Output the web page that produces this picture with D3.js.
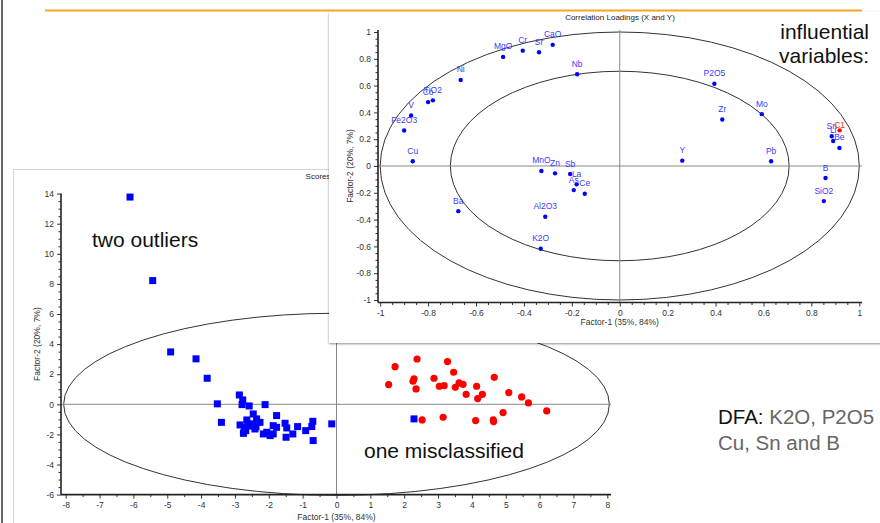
<!DOCTYPE html>
<html>
<head>
<meta charset="utf-8">
<script src="https://cdn.jsdelivr.net/npm/d3@7"></script>
<style>
  body { margin: 0; background: #fff; }
  svg { display: block; font-family: "Liberation Sans", Arial, sans-serif; }
</style>
</head>
<body>
<svg id="slide" width="880" height="523"></svg>
<script>
// ---- Scores: class 1 (blue squares) ----
const scoreBlueX = [-6.10, -5.43, -4.90, -4.15, -3.82, -3.52, -3.40, -2.87, -2.77, -2.79, -2.58, -2.11,
  -2.46, -2.36, -2.65, -2.85, -2.73, -2.75, -2.68, -2.46, -2.41, -2.26, -2.16, -2.06, -1.96, -1.87,
  -1.87, -1.77, -1.77, -1.52, -1.47, -1.49, -1.29, -1.15, -0.91, -0.70, -0.73, -0.69, -0.14, 2.29,
  -2.55, -2.38, -2.62];
const scoreBlueY = [13.77, 8.22, 3.48, 3.02, 1.73, 0.03, -1.20, 0.62, 0.29, -0.02, -0.11, -0.02,
  -0.64, -0.97, -1.04, -1.37, -1.53, -1.93, -1.75, -1.30, -1.64, -1.20, -1.97, -1.86, -2.08, -1.97,
  -1.42, -1.53, -0.75, -1.26, -1.57, -2.19, -1.97, -1.48, -1.75, -1.13, -1.48, -2.41, -1.30, -0.97,
  -1.45, -1.50, -1.30];

// ---- Scores: class 2 (red circles) ----
const scoreRedX = [1.73, 2.38, 3.28, 1.54, 2.29, 2.26, 2.35, 2.88, 3.04, 3.18, 3.46, 3.51, 3.62, 3.74,
  3.83, 4.14, 4.17, 4.31, 4.66, 5.09, 5.47, 5.67, 6.21, 4.92, 4.63, 4.64, 4.11, 3.15, 2.53];
const scoreRedY = [2.50, 3.01, 2.84, 1.31, 1.69, 1.53, 1.02, 1.73, 1.20, 1.24, 2.13, 1.13, 1.42, 1.33,
  0.66, 1.20, 0.38, 0.66, 1.79, 0.78, 0.49, 0.09, -0.44, -0.55, -1.04, -1.15, -1.08, -0.86, -1.04];

// ---- Correlation loadings (X variables) ----
const loadNames = ["MgO", "Cr", "Sr", "CaO", "Nb", "Ni", "Co", "TiO2", "V", "Fe2O3", "Cu", "MnO", "Zn",
  "Sb", "La", "As", "Ce", "Ba", "Al2O3", "K2O", "P2O5", "Zr", "Mo", "Y", "Pb", "Sn", "Li", "Be", "B", "SiO2"];
const loadX = [-0.487, -0.405, -0.337, -0.280, -0.178, -0.664, -0.800, -0.780, -0.871, -0.900, -0.864,
  -0.327, -0.270, -0.207, -0.180, -0.192, -0.146, -0.674, -0.311, -0.330, 0.395, 0.428, 0.593, 0.261,
  0.632, 0.885, 0.891, 0.917, 0.859, 0.852];
const loadY = [0.814, 0.861, 0.849, 0.904, 0.685, 0.642, 0.477, 0.490, 0.377, 0.265, 0.035, -0.037,
  -0.055, -0.060, -0.137, -0.180, -0.207, -0.337, -0.379, -0.617, 0.614, 0.347, 0.387, 0.040, 0.035,
  0.222, 0.187, 0.135, -0.090, -0.262];

// ---- Correlation loadings (Y variable) ----
const respNames = ["C1"];
const respX = [0.918];
const respY = [0.266];

// ---- Tick values ----
const scoreXTicks = d3.range(-8, 9, 1);
const scoreYTicks = d3.range(-6, 15, 2);
const loadTicks = [-1, -0.8, -0.6, -0.4, -0.2, 0, 0.2, 0.4, 0.6, 0.8, 1];

const svg = d3.select("#slide");
const TICK_COLOR = "#333";
const fmt = d => String(+d.toFixed(2));

// slide frame
svg.append("rect").attr("width", 880).attr("height", 523).attr("fill", "#fff");
svg.append("line").attr("x1", 2).attr("x2", 2).attr("y1", 0).attr("y2", 523)
  .attr("stroke", "#666").attr("stroke-width", 2);

// ================= Scores panel =================
const sp = svg.append("g");
sp.append("rect").attr("x", 13.5).attr("y", 169.5).attr("width", 900).attr("height", 400)
  .attr("fill", "#fff").attr("stroke", "#d4d4d4");
sp.append("text").attr("x", 336).attr("y", 179).attr("text-anchor", "middle")
  .attr("font-size", 8).attr("fill", "#222").text("Scores (X and Y)");

const sx = d3.scaleLinear().domain([-8, 8]).range([65.7, 607.3]);
const sy = d3.scaleLinear().domain([-6, 14]).range([494.6, 193.6]);
const sAxisX = 61, sAxisY = sy(-6);

// ellipse
sp.append("ellipse").attr("cx", sx(0)).attr("cy", sy(0))
  .attr("rx", sx(8.06) - sx(0)).attr("ry", sy(0) - sy(6.05))
  .attr("fill", "none").attr("stroke", "#333").attr("stroke-width", 1);

// zero lines
sp.append("line").attr("x1", sAxisX).attr("x2", 611).attr("y1", sy(0)).attr("y2", sy(0))
  .attr("stroke", "#888").attr("stroke-width", 1);
sp.append("line").attr("x1", sx(0)).attr("x2", sx(0)).attr("y1", sy(14)).attr("y2", sAxisY)
  .attr("stroke", "#888").attr("stroke-width", 1);

// axes
function styleAxis(g) {
  g.select(".domain").remove();
  g.selectAll("line").attr("stroke", TICK_COLOR);
  g.selectAll("text").attr("fill", TICK_COLOR).attr("font-size", 8.5)
    .attr("font-family", "Liberation Sans, Arial, sans-serif");
}
sp.append("g").attr("transform", `translate(0,${sAxisY})`)
  .call(d3.axisBottom(sx).tickValues(scoreXTicks).tickSize(4).tickPadding(3).tickFormat(fmt)).call(styleAxis);
sp.append("g").attr("transform", `translate(0,${sAxisY})`)
  .call(d3.axisBottom(sx).tickValues(d3.range(-7.5, 8, 1)).tickSize(2.5).tickFormat("")).call(styleAxis);
sp.append("g").attr("transform", `translate(${sAxisX},0)`)
  .call(d3.axisLeft(sy).tickValues(scoreYTicks).tickSize(4).tickPadding(3).tickFormat(fmt)).call(styleAxis);
sp.append("g").attr("transform", `translate(${sAxisX},0)`)
  .call(d3.axisLeft(sy).tickValues(d3.range(-6, 14.01, 0.5).filter(v => v % 2 !== 0)).tickSize(2.5).tickFormat(""))
  .call(styleAxis);
sp.append("line").attr("x1", sAxisX).attr("x2", 611).attr("y1", sAxisY).attr("y2", sAxisY)
  .attr("stroke", "#222").attr("stroke-width", 1.6);
sp.append("line").attr("x1", sAxisX).attr("x2", sAxisX).attr("y1", sy(14)).attr("y2", sAxisY)
  .attr("stroke", "#222").attr("stroke-width", 1.6);

sp.append("text").attr("x", sx(0)).attr("y", 520).attr("text-anchor", "middle")
  .attr("font-size", 8.5).attr("fill", "#333").text("Factor-1 (35%, 84%)");
sp.append("text").attr("transform", `translate(40,${sy(4)}) rotate(-90)`).attr("text-anchor", "middle")
  .attr("font-size", 8.5).attr("fill", "#333").text("Factor-2 (20%, 7%)");

// points
const blue = d3.zip(scoreBlueX, scoreBlueY);
const red = d3.zip(scoreRedX, scoreRedY);
sp.selectAll("rect.b").data(blue).join("rect").attr("class", "b")
  .attr("x", d => sx(d[0]) - 3.5).attr("y", d => sy(d[1]) - 3.5)
  .attr("width", 7).attr("height", 7).attr("fill", "#0000ff");
sp.selectAll("circle.r").data(red).join("circle").attr("class", "r")
  .attr("cx", d => sx(d[0])).attr("cy", d => sy(d[1])).attr("r", 3.6).attr("fill", "#ff0000");

// annotations on the scores panel
svg.append("text").attr("x", 92).attr("y", 247).attr("font-size", 21).attr("fill", "#111").text("two outliers");
svg.append("text").attr("x", 364).attr("y", 458).attr("font-size", 21).attr("fill", "#111").text("one misclassified");

// ================= Loadings panel =================
const defs = svg.append("defs");
const f = defs.append("filter").attr("id", "shadow").attr("x", "-5%").attr("y", "-5%")
  .attr("width", "110%").attr("height", "110%");
f.append("feDropShadow").attr("dx", 0).attr("dy", 1).attr("stdDeviation", 1.3)
  .attr("flood-color", "#000").attr("flood-opacity", 0.45);

const lp = svg.append("g");
lp.append("rect").attr("x", 329).attr("y", 12).attr("width", 560).attr("height", 331)
  .attr("fill", "#fff").attr("filter", "url(#shadow)");
lp.append("text").attr("x", 620).attr("y", 20).attr("text-anchor", "middle")
  .attr("font-size", 8).attr("fill", "#222").text("Correlation Loadings (X and Y)");

const lx = d3.scaleLinear().domain([-1, 1]).range([380.2, 859.3]);
const ly = d3.scaleLinear().domain([-1, 1]).range([300, 32]);
const lAxisX = 378, lAxisY = 302.5;

// ellipses: 100% and 50% explained variance
[1, Math.SQRT1_2].forEach(r => {
  lp.append("ellipse").attr("cx", lx(0)).attr("cy", ly(0))
    .attr("rx", lx(r) - lx(0)).attr("ry", ly(0) - ly(r))
    .attr("fill", "none").attr("stroke", "#333").attr("stroke-width", 1);
});

// zero lines
lp.append("line").attr("x1", lAxisX).attr("x2", 862).attr("y1", ly(0)).attr("y2", ly(0))
  .attr("stroke", "#888").attr("stroke-width", 1);
lp.append("line").attr("x1", lx(0)).attr("x2", lx(0)).attr("y1", 30).attr("y2", lAxisY)
  .attr("stroke", "#888").attr("stroke-width", 1);

// axes
const loadMinor = d3.range(-1, 1.001, 0.05).map(v => +v.toFixed(2)).filter(v => !loadTicks.includes(v));
lp.append("g").attr("transform", `translate(0,${lAxisY})`)
  .call(d3.axisBottom(lx).tickValues(loadTicks).tickSize(4).tickPadding(3).tickFormat(fmt)).call(styleAxis);
lp.append("g").attr("transform", `translate(0,${lAxisY})`)
  .call(d3.axisBottom(lx).tickValues(loadMinor).tickSize(2.5).tickFormat("")).call(styleAxis);
lp.append("g").attr("transform", `translate(${lAxisX},0)`)
  .call(d3.axisLeft(ly).tickValues(loadTicks).tickSize(4).tickPadding(3).tickFormat(fmt)).call(styleAxis);
lp.append("g").attr("transform", `translate(${lAxisX},0)`)
  .call(d3.axisLeft(ly).tickValues(loadMinor).tickSize(2.5).tickFormat("")).call(styleAxis);
lp.append("line").attr("x1", lAxisX).attr("x2", 862).attr("y1", lAxisY).attr("y2", lAxisY)
  .attr("stroke", "#222").attr("stroke-width", 1.6);
lp.append("line").attr("x1", lAxisX).attr("x2", lAxisX).attr("y1", 30).attr("y2", lAxisY)
  .attr("stroke", "#222").attr("stroke-width", 1.6);

lp.append("text").attr("x", lx(0)).attr("y", 325).attr("text-anchor", "middle")
  .attr("font-size", 8.5).attr("fill", "#333").text("Factor-1 (35%, 84%)");
lp.append("text").attr("transform", `translate(353,${ly(0)}) rotate(-90)`).attr("text-anchor", "middle")
  .attr("font-size", 8.5).attr("fill", "#333").text("Factor-2 (20%, 7%)");

// loading points and labels (response label sits closer to its point)
const loads = loadNames.map((n, i) => ({ n, x: loadX[i], y: loadY[i], c: "#0000ff", t: "#3a3aff", dy: -7.5 }))
  .concat(respNames.map((n, i) => ({ n, x: respX[i], y: respY[i], c: "#ff0000", t: "#ff2a2a", dy: -2 })));
lp.selectAll("circle.l").data(loads).join("circle").attr("class", "l")
  .attr("cx", d => lx(d.x)).attr("cy", d => ly(d.y)).attr("r", 2.2).attr("fill", d => d.c);
lp.selectAll("text.l").data(loads).join("text").attr("class", "l")
  .attr("x", d => lx(d.x)).attr("y", d => ly(d.y) + d.dy).attr("text-anchor", "middle")
  .attr("font-size", 8.5).attr("fill", d => d.t).text(d => d.n);

// annotation on the loadings panel
svg.append("text").attr("x", 869).attr("y", 38.5).attr("text-anchor", "end")
  .attr("font-size", 21).attr("fill", "#111").text("influential");
svg.append("text").attr("x", 869).attr("y", 63).attr("text-anchor", "end")
  .attr("font-size", 21).attr("fill", "#111").text("variables:");

// slide header rule
svg.append("line").attr("x1", 45).attr("x2", 862).attr("y1", 10.5).attr("y2", 10.5)
  .attr("stroke", "#f5a82a").attr("stroke-width", 2);

// right-side summary
const dfa = svg.append("text").attr("x", 718).attr("y", 424).attr("font-size", 20.5);
dfa.append("tspan").attr("fill", "#111").text("DFA:");
dfa.append("tspan").attr("fill", "#666").text(" K2O, P2O5");
svg.append("text").attr("x", 718).attr("y", 449.5).attr("font-size", 20.5).attr("fill", "#666")
  .text("Cu, Sn and B");
</script>
</body>
</html>
